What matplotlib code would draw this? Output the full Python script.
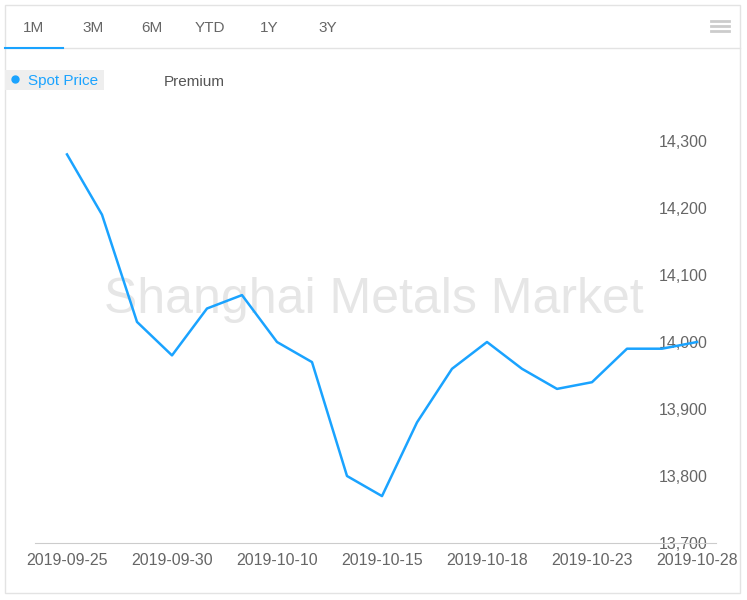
import numpy as np
import matplotlib.pyplot as plt
from matplotlib.patches import Rectangle
from matplotlib.lines import Line2D

# 数据
dates = ['2019-09-25', '2019-09-26', '2019-09-27', '2019-09-30', '2019-10-08',
         '2019-10-09', '2019-10-10', '2019-10-11', '2019-10-14', '2019-10-15',
         '2019-10-16', '2019-10-17', '2019-10-18', '2019-10-21', '2019-10-22',
         '2019-10-23', '2019-10-24', '2019-10-25', '2019-10-28']
spot_price = [14280, 14190, 14030, 13980, 14050, 14070, 14000, 13970, 13800, 13770,
              13880, 13960, 14000, 13960, 13930, 13940, 13990, 13990, 14000]
y_ticks = [13700, 13800, 13900, 14000, 14100, 14200, 14300]
tabs = ['1M', '3M', '6M', 'YTD', '1Y', '3Y']

plt.rcParams['font.family'] = ['Liberation Sans', 'DejaVu Sans']
W, H = 747, 600
fig = plt.figure(figsize=(W / 100, H / 100), dpi=100)

def fx(px):
    return px / W

def fy(py):
    return 1 - py / H

# 外框和标签栏
fig.patches.append(Rectangle((fx(5), fy(593)), fx(735), (593 - 5) / H, transform=fig.transFigure,
                             fill=False, edgecolor='#e3e3e3', linewidth=1))
fig.lines.append(Line2D([fx(5), fx(740)], [fy(48), fy(48)], transform=fig.transFigure,
                        color='#e3e3e3', linewidth=1))
fig.lines.append(Line2D([fx(5), fx(63)], [fy(48), fy(48)], transform=fig.transFigure,
                        color='#1aa3ff', linewidth=1.5))
tab_x = [34, 93, 152, 210, 269, 328]
for t, x in zip(tabs, tab_x):
    fig.text(fx(x), fy(27.5), t, ha='center', va='center', fontsize=11, color='#666666')
for yy in [21, 26, 31]:
    fig.lines.append(Line2D([fx(711), fx(729)], [fy(yy), fy(yy)], transform=fig.transFigure,
                            color='#cccccc', linewidth=2))

# 图例
fig.patches.append(Rectangle((fx(5), fy(90)), fx(99), 20 / H, transform=fig.transFigure,
                             facecolor='#eeeeee', edgecolor='none'))
fig.lines.append(Line2D([fx(15)], [fy(79)], transform=fig.transFigure, marker='o',
                        markersize=5, color='#1aa3ff', linestyle='none'))
fig.text(fx(28), fy(81.5), 'Spot Price', ha='left', va='center', fontsize=11, color='#1aa3ff')
fig.text(fx(164), fy(81.5), 'Premium', ha='left', va='center', fontsize=11, color='#555555')

# 主图
ax = fig.add_axes([fx(35), fy(543), fx(716 - 35), (543 - 141) / H])
x = np.arange(len(dates))
ax.plot(x, spot_price, color='#1aa3ff', linewidth=1.8, zorder=3)
ax.set_xlim(-(67 - 35) / 35, len(dates) - 1 + (716 - 697) / 35)
ax.set_ylim(13700, 14300)

ax.set_xticks(x[::3])
ax.set_xticklabels(dates[::3])
ax.set_yticks(y_ticks)
ax.set_yticklabels(['{:,}'.format(v) for v in y_ticks])
ax.yaxis.tick_right()
ax.tick_params(axis='y', length=0, pad=-41.5, labelsize=11.5, labelcolor='#666666')
ax.tick_params(axis='x', length=0, pad=7, labelsize=11.5, labelcolor='#666666')
for lbl in ax.get_yticklabels():
    lbl.set_horizontalalignment('left')
    lbl.set_verticalalignment('center_baseline')
for s in ['top', 'right', 'left']:
    ax.spines[s].set_visible(False)
ax.spines['bottom'].set_color('#cccccc')
ax.patch.set_alpha(0)

# 水印（放在折线下面）
ax.text(fx(374), fy(300), 'Shanghai Metals Market', ha='center', va='center',
        fontsize=36, color='#e6e6e6', zorder=0, transform=fig.transFigure)

fig.savefig('out.png', dpi=100)
